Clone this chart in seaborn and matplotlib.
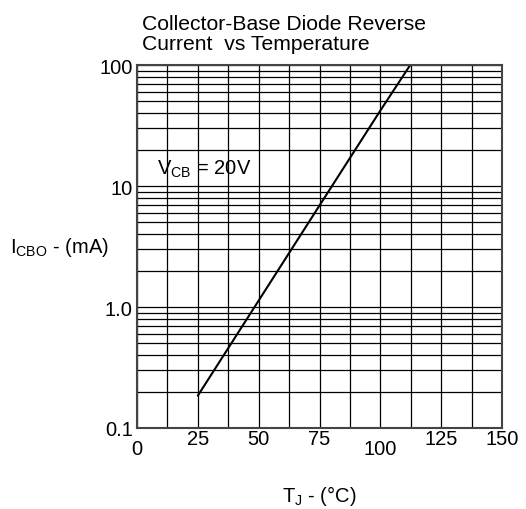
import numpy as np
import pandas as pd
import seaborn as sns
import matplotlib
matplotlib.use("Agg")
import matplotlib.pyplot as plt
from matplotlib.ticker import LogLocator, FixedLocator, NullFormatter
import matplotlib.transforms as mtransforms

# data
temps_c = [25, 50, 75, 100, 112.3]
icbo_ma = [0.185, 1.13, 6.9, 42, 100]
x_ticks = [0, 25, 50, 75, 100, 125, 150]
x_tick_labels = ["0", "25", "50", "75", "100", "125", "150"]
y_ticks = [0.1, 1, 10, 100]
y_tick_labels = ["0.1", "1.0", "10", "100"]

sns.set_theme(style="white")
plt.rcParams["font.family"] = ["Liberation Sans", "DejaVu Sans"]
plt.rcParams["mathtext.fontset"] = "custom"
plt.rcParams["mathtext.rm"] = "Liberation Sans"
plt.rcParams["mathtext.it"] = "Liberation Sans"

FS = 14.5

fig = plt.figure(figsize=(5.26, 5.10), dpi=100)
ax = fig.add_axes([137 / 526, 1 - 429 / 510, 365 / 526, 363 / 510])

df = pd.DataFrame({"T": temps_c, "I": icbo_ma})
sns.lineplot(data=df, x="T", y="I", ax=ax, color="black", linewidth=1.5)

ax.set_yscale("log")
ax.set_xlim(0, 150)
ax.set_ylim(0.1, 100)

ax.xaxis.set_major_locator(FixedLocator(x_ticks))
ax.set_xticklabels(x_tick_labels)
ax.xaxis.set_minor_locator(FixedLocator(np.arange(0, 151, 12.5)))
ax.yaxis.set_major_locator(FixedLocator(y_ticks))
ax.set_yticklabels(y_tick_labels)
ax.yaxis.set_minor_locator(LogLocator(base=10, subs=np.arange(2, 10)))
ax.yaxis.set_minor_formatter(NullFormatter())

ax.grid(which="both", color="black", linewidth=0.9)
ax.set_axisbelow(True)
ax.tick_params(which="both", length=0, labelsize=FS, colors="black")
ax.tick_params(axis="x", pad=1)
ax.tick_params(axis="y", pad=3)
for s in ax.spines.values():
    s.set_color("#444444")
    s.set_linewidth(1.5)

# the "0" and "100" labels sit lower in the reference
off = mtransforms.ScaledTranslation(0, -10 / 100, fig.dpi_scale_trans)
for lab in ax.get_xticklabels():
    if lab.get_text() in ("0", "100"):
        lab.set_transform(lab.get_transform() + off)

ax.set_xlabel(r"T$_\mathregular{J}$ - (°C)", fontsize=FS, color="black", va="center")
ax.xaxis.set_label_coords(0.5, -0.185)
ax.set_ylabel(r"I$_\mathregular{CBO}$ - (mA)", fontsize=FS, color="black",
              rotation=0, ha="left", va="center")
ax.yaxis.set_label_coords(-0.348, 0.50)

ax.text(0.055, 0.716, r"V$_\mathregular{CB}$ = 20V", transform=ax.transAxes,
        fontsize=FS, va="center", ha="left", color="black")

fig.text(142 / 526, 1 - 54 / 510, "Collector-Base Diode Reverse\nCurrent  vs Temperature",
         fontsize=15.2, ha="left", va="bottom", color="black", linespacing=1.1)

fig.savefig("out.png", dpi=100)
